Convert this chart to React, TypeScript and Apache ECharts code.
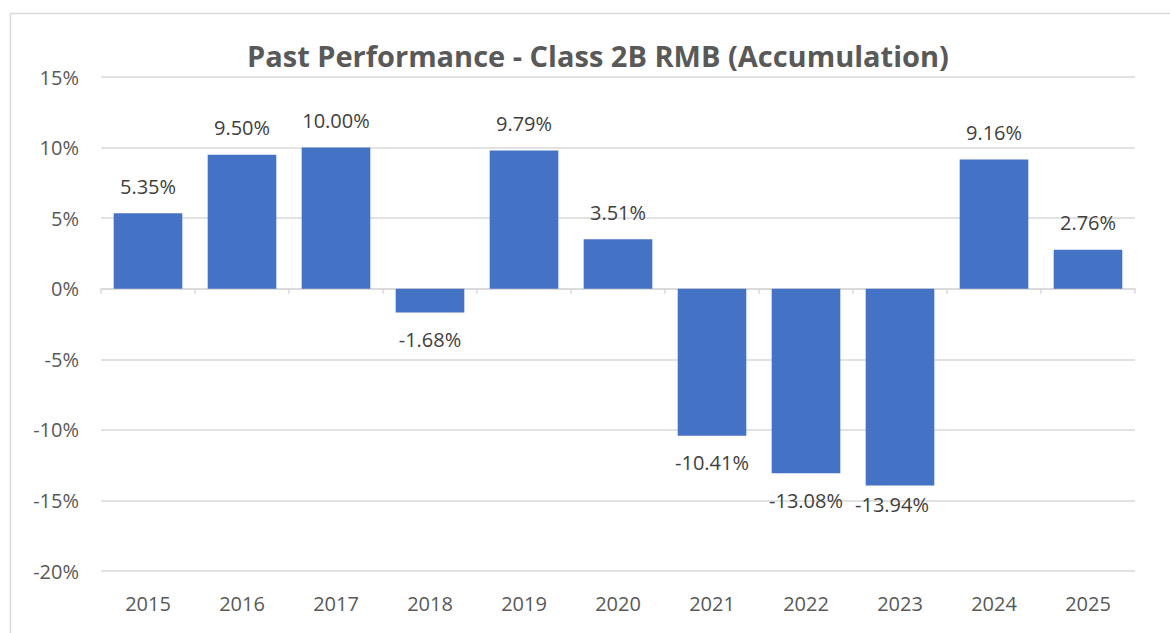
import React, { useEffect, useRef } from "react";
import * as echarts from "echarts";

const titleText = "Past Performance - Class 2B RMB (Accumulation)";
const categories = ["2015", "2016", "2017", "2018", "2019", "2020", "2021", "2022", "2023", "2024", "2025"];
const returns = [5.35, 9.5, 10.0, -1.68, 9.79, 3.51, -10.41, -13.08, -13.94, 9.16, 2.76];
const yMin = -20;
const yMax = 15;
const yStep = 5;

const FONT = "'Open Sans', 'Liberation Sans', sans-serif";

export default function App() {
  const ref = useRef<HTMLDivElement>(null);
  useEffect(() => {
    if (!ref.current) return;
    const chart = echarts.init(ref.current, null, { renderer: "svg" });
    chart.setOption({
      animation: false,
      backgroundColor: "#ffffff",
      graphic: [
        {
          type: "rect",
          shape: { x: 10.5, y: 13.5, width: 1200, height: 700 },
          style: { fill: "none", stroke: "#d9d9d9", lineWidth: 1.5 },
          silent: true,
          z: -1,
        },
      ],
      title: {
        text: titleText,
        left: 242,
        top: 36,
        textStyle: { fontFamily: FONT, fontSize: 29, fontWeight: "bold", color: "#595959" },
      },
      grid: { left: 101, right: 35, top: 77, bottom: 62, containLabel: false },
      xAxis: {
        type: "category",
        data: categories,
        axisLine: { onZero: true, lineStyle: { color: "#d9d9d9", width: 1.5 } },
        axisTick: { show: true, length: 5, alignWithLabel: false, lineStyle: { color: "#d9d9d9", width: 1.5 } },
        axisLabel: {
          show: true,
          color: "#595959",
          fontFamily: FONT,
          fontSize: 20,
          margin: 22,
        },
        position: "bottom",
        splitLine: { show: false },
      },
      yAxis: {
        type: "value",
        min: yMin,
        max: yMax,
        interval: yStep,
        axisLine: { show: false },
        axisTick: { show: false },
        axisLabel: {
          color: "#595959",
          fontFamily: FONT,
          fontSize: 20,
          margin: 22,
          formatter: (v: number) => `${v}%`,
        },
        splitLine: { lineStyle: { color: "#d9d9d9", width: 1.5 } },
      },
      series: [
        {
          type: "bar",
          data: returns.map((v, i) => ({
            value: v,
            label: {
              show: true,
              position: v >= 0 ? "top" : "bottom",
              distance: categories[i] === "2023" ? 9 : 17,
              offset: categories[i] === "2023" ? [-8, 0] : [0, 0],
              formatter: `${v.toFixed(2)}%`,
              color: "#404040",
              fontFamily: FONT,
              fontSize: 20,
            },
          })),
          barCategoryGap: "27%",
          itemStyle: { color: "#4472C4" },
        },
      ],
    });
    return () => chart.dispose();
  }, []);
  return (
    <div
      ref={ref}
      style={{ position: "fixed", left: 0, top: 0, width: 1170, height: 633 }}
    />
  );
}
